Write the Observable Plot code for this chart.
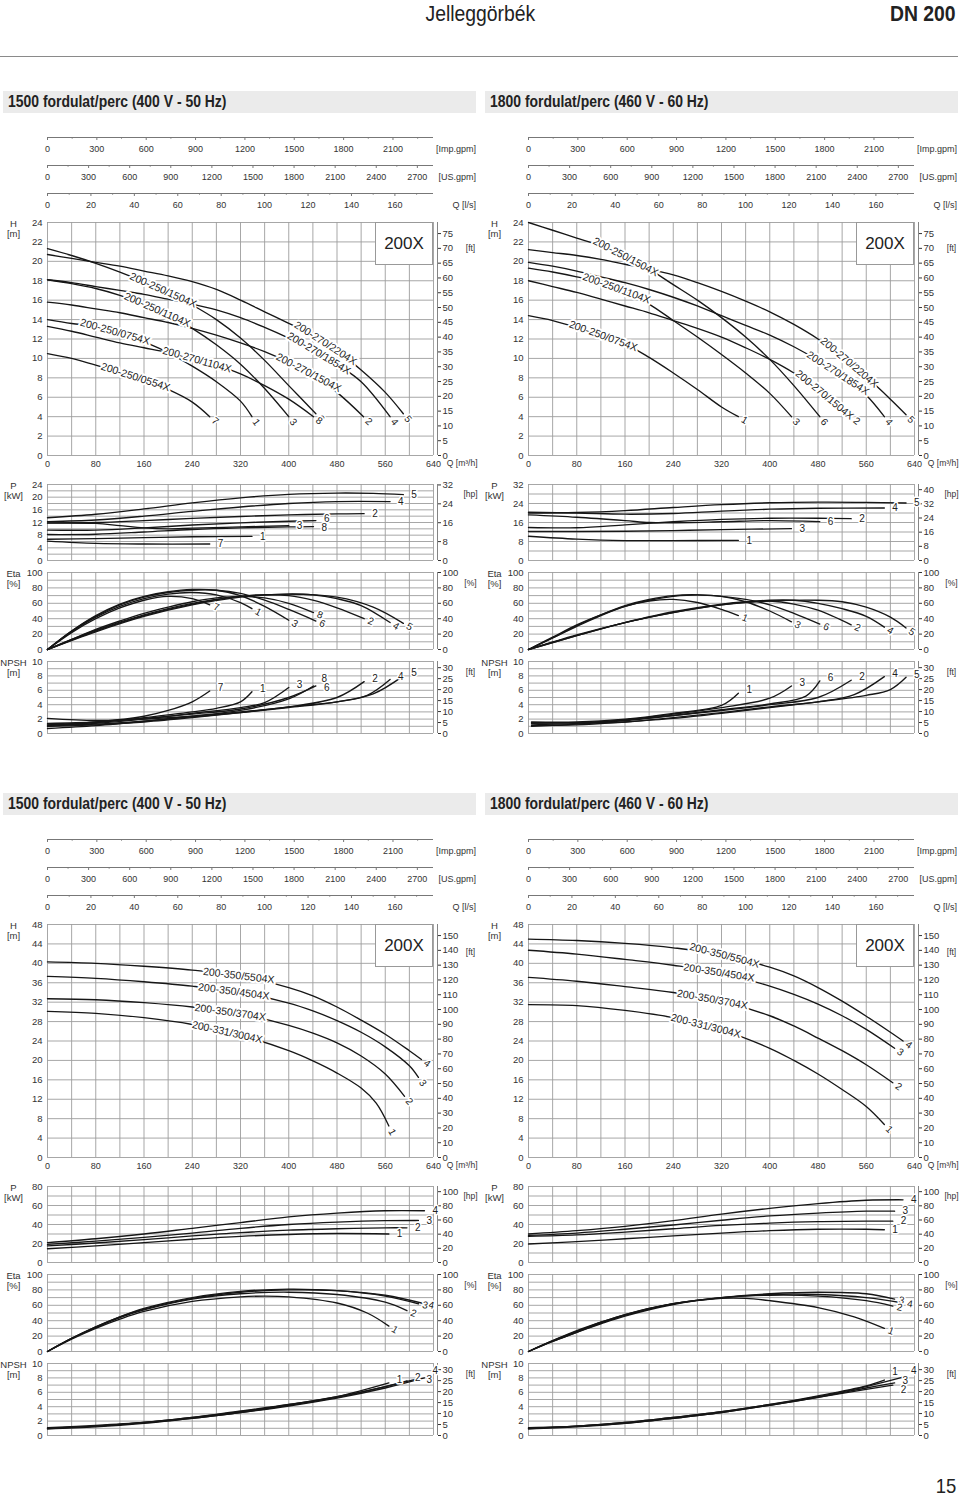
<!DOCTYPE html>
<html><head><meta charset="utf-8">
<script src="https://cdn.jsdelivr.net/npm/d3@7"></script>
<script src="https://cdn.jsdelivr.net/npm/@observablehq/plot@0.6"></script>
<style>
body{margin:0;background:#fff;font-family:'Liberation Sans',Arial,sans-serif;}
#page{position:relative;width:960px;height:1497px;overflow:hidden;background:#fff}
.title{position:absolute;left:0;width:960px;top:1px;text-align:center;font-size:22px;color:#222}
.title span{display:inline-block;transform:scaleX(0.88);transform-origin:center}
.dn{position:absolute;right:4px;top:1px;font-size:22px;font-weight:bold;color:#222}
.dn span,.pg span{display:inline-block;transform:scaleX(0.88);transform-origin:right}
.hr{position:absolute;left:0;top:56px;width:958px;height:0;border-top:1.5px solid #8a8a8a}
.band{position:absolute;height:22px;line-height:22px;background:#ebebeb;font-size:17px;font-weight:bold;color:#222;padding-left:5px;box-sizing:border-box;white-space:nowrap;overflow:hidden}
.band span{display:inline-block;transform:scaleX(0.82);transform-origin:left}
.box{position:absolute;width:58px;height:43px;box-sizing:border-box;border:1px solid #999;background:#fff;font-size:17px;line-height:41px;text-align:center;color:#222}
.pg{position:absolute;right:4px;top:1474px;font-size:21px;color:#222}
</style></head>
<body><div id="page">
<div class="title"><span>Jelleggörbék</span></div>
<div class="dn"><span>DN 200</span></div>
<div class="hr"></div>
<div class="pg"><span>15</span></div>
</div>
<script>
// ---------- axis tick labels ----------
const qLabels = [0, 80, 160, 240, 320, 400, 480, 560, 640];
const impLabels = [0, 300, 600, 900, 1200, 1500, 1800, 2100];
const impMinor = [150, 450, 750, 1050, 1350, 1650, 1950, 2250];
const usLabels = [0, 300, 600, 900, 1200, 1500, 1800, 2100, 2400, 2700];
const usMinor = [150, 450, 750, 1050, 1350, 1650, 1950, 2250, 2550];
const lpsLabels = [0, 20, 40, 60, 80, 100, 120, 140, 160];
const lpsMinor = [10, 30, 50, 70, 90, 110, 130, 150, 170];
const ftTicksSmall = [0, 5, 10, 15, 20, 25, 30, 35, 40, 45, 50, 55, 60, 65, 70, 75];
const ftTicksLarge = [0, 10, 20, 30, 40, 50, 60, 70, 80, 90, 100, 110, 120, 130, 140, 150];
const hpTicksTL = [0, 8, 16, 24, 32];
const hpTicksTR = [0, 8, 16, 24, 32, 40];
const hpTicksB = [0, 20, 40, 60, 80, 100];
const pctTicks = [0, 20, 40, 60, 80, 100];
const npshFtTicks = [0, 5, 10, 15, 20, 25, 30];
const headers = ["1500 fordulat/perc (400 V - 50 Hz)", "1800 fordulat/perc (460 V - 60 Hz)"];

// ---------- 1500 rpm, 200-250 / 200-270 ----------
const TL_H = [
  {id:"7", name:"200-250/0554X", lq:146, pts:[[0,10.5],[40,10.0],[80,9.3],[120,8.6],[160,7.8],[200,6.8],[240,5.5],[269,4.0]]},
  {id:"1", name:"200-250/0754X", lq:112, pts:[[0,14.0],[40,13.6],[80,13.3],[120,12.6],[160,11.7],[200,10.6],[240,9.2],[280,7.6],[320,5.6],[339,4.0]]},
  {id:"3", name:"200-250/1104X", lq:182, pts:[[0,18.1],[40,17.7],[80,17.2],[120,16.5],[160,15.6],[200,14.5],[240,13.1],[280,11.4],[320,9.4],[360,6.9],[400,4.0]]},
  {id:"6", name:"200-250/1504X", lq:192, pts:[[0,21.3],[40,20.6],[80,19.8],[120,18.9],[160,17.9],[200,16.8],[240,15.5],[280,14.0],[320,12.1],[360,9.8],[400,7.2],[445,4.3]]},
  {id:"8", name:"200-270/1104X", lq:248, pts:[[0,13.3],[40,12.8],[80,12.2],[120,11.6],[160,11.1],[200,10.6],[240,10.0],[280,9.3],[320,8.4],[360,7.2],[400,5.8],[441,4.0]]},
  {id:"2", name:"200-270/1504X", lq:433, pts:[[0,15.8],[40,15.5],[80,15.1],[120,14.7],[160,14.2],[200,13.7],[240,13.1],[280,12.4],[320,11.6],[360,10.7],[400,9.6],[440,8.3],[480,6.5],[524,4.0]]},
  {id:"4", name:"200-270/1854X", lq:450, pts:[[0,18.1],[40,17.8],[80,17.4],[120,17.0],[160,16.6],[200,16.1],[240,15.6],[280,15.0],[320,14.2],[360,13.2],[400,12.1],[440,10.9],[480,9.4],[520,7.6],[568,4.0]]},
  {id:"5", name:"200-270/2204X", lq:461, pts:[[0,20.7],[40,20.3],[80,19.9],[120,19.5],[160,19.0],[200,18.5],[240,17.9],[280,17.1],[320,16.0],[360,14.8],[400,13.6],[440,12.4],[480,10.8],[520,8.8],[560,6.5],[590,4.3]]}
];
const TL_P = [
  {id:"5", pts:[[0,13.5],[80,14.6],[160,16.3],[240,18.2],[320,19.8],[400,20.9],[480,21.3],[540,21.2],[590,20.8]]},
  {id:"4", pts:[[0,12.3],[80,12.8],[160,14.0],[240,15.5],[320,16.9],[400,18.0],[480,18.6],[568,18.6]]},
  {id:"2", pts:[[0,11.9],[80,12.0],[160,12.6],[240,13.3],[320,13.9],[400,14.4],[480,14.7],[525,14.8]]},
  {id:"6", pts:[[0,9.6],[80,9.6],[160,10.3],[240,11.2],[320,11.9],[400,12.4],[445,12.6]]},
  {id:"3", pts:[[0,11.8],[80,11.7],[120,11.0],[160,10.3],[200,10.0],[240,10.2],[320,10.6],[400,11.0]]},
  {id:"8", pts:[[0,8.2],[80,8.3],[160,9.0],[240,9.8],[320,10.3],[400,10.6],[441,10.7]]},
  {id:"1", pts:[[0,6.7],[80,6.9],[160,7.2],[240,7.5],[339,7.6]]},
  {id:"7", pts:[[0,6.1],[80,5.4],[160,5.2],[269,5.2]]}
];
const TL_ETA = [
  {id:"7", pts:[[0,0],[40,22],[80,40],[120,54],[160,64],[200,69],[240,66],[269,58]]},
  {id:"1", pts:[[0,0],[40,23],[80,42],[120,56],[160,66],[200,72],[240,74],[280,71],[320,61],[339,53]]},
  {id:"3", pts:[[0,0],[40,24],[80,44],[120,59],[160,69],[200,75],[240,78],[280,77],[320,70],[360,56],[400,38]]},
  {id:"6", pts:[[0,0],[40,24],[80,43],[120,58],[160,68],[200,74],[240,77],[280,77],[320,73],[360,64],[400,52],[445,37]]},
  {id:"8", pts:[[0,0],[40,13],[80,26],[120,37],[160,47],[200,55],[240,62],[280,67],[320,69],[360,67],[400,60],[441,48]]},
  {id:"2", pts:[[0,0],[80,25],[160,45],[240,60],[320,69],[360,71],[400,70],[440,64],[480,54],[525,40]]},
  {id:"4", pts:[[0,0],[80,24],[160,44],[240,59],[320,69],[400,72],[440,71],[480,66],[520,57],[568,35]]},
  {id:"5", pts:[[0,0],[80,23],[160,43],[240,58],[320,68],[400,72],[480,68],[540,55],[590,34]]}
];
const TL_NPSH = [
  {id:"7", pts:[[0,1.2],[80,1.6],[160,2.4],[200,3.2],[240,4.4],[269,5.9]]},
  {id:"1", pts:[[0,1.1],[80,1.5],[160,2.2],[240,3.0],[280,3.5],[320,4.4],[339,5.8]]},
  {id:"3", pts:[[0,1.0],[80,1.4],[160,2.0],[240,2.8],[320,3.6],[360,4.3],[400,6.4]]},
  {id:"8", pts:[[0,0.7],[80,1.1],[160,1.7],[240,2.4],[320,3.2],[400,4.8],[441,6.6]]},
  {id:"6", pts:[[0,1.4],[80,1.6],[160,2.1],[240,2.7],[320,3.4],[400,5.0],[445,6.6]]},
  {id:"2", pts:[[0,2.1],[80,1.8],[160,2.0],[240,2.4],[320,3.0],[400,3.7],[480,5.0],[525,7.2]]},
  {id:"4", pts:[[0,1.2],[80,1.3],[160,1.7],[240,2.3],[320,2.9],[400,3.7],[480,4.4],[530,5.3],[568,7.5]]},
  {id:"5", pts:[[0,1.0],[80,1.2],[160,1.6],[240,2.2],[320,2.9],[400,3.6],[480,4.4],[540,5.5],[590,8.0]]}
];

// ---------- 1800 rpm, 200-250 / 200-270 ----------
const TR_H = [
  {id:"1", name:"200-250/0754X", lq:124, pts:[[0,14.4],[40,13.9],[80,13.2],[120,12.4],[160,11.5],[200,10.1],[240,8.5],[280,6.8],[320,5.0],[348,4.0]]},
  {id:"3", name:"200-250/1104X", lq:146, pts:[[0,19.3],[40,18.9],[80,18.4],[120,17.8],[160,16.9],[200,15.6],[240,13.9],[280,12.2],[320,10.4],[360,8.5],[400,6.4],[436,4.0]]},
  {id:"6", name:"200-250/1504X", lq:161, pts:[[0,24.0],[40,23.2],[80,22.4],[120,21.6],[160,20.5],[200,19.2],[240,17.6],[280,16.0],[320,14.2],[360,12.2],[400,9.9],[440,7.2],[483,4.0]]},
  {id:"2", name:"200-270/1504X", lq:491, pts:[[0,18.0],[40,17.4],[80,16.8],[120,16.1],[160,15.4],[200,14.7],[240,13.9],[280,13.1],[320,12.2],[360,11.1],[400,9.9],[440,8.5],[480,6.8],[535,4.0]]},
  {id:"4", name:"200-270/1854X", lq:513, pts:[[0,19.9],[40,19.5],[80,19.0],[120,18.4],[160,17.8],[200,17.1],[240,16.3],[280,15.4],[320,14.4],[360,13.4],[400,12.4],[440,11.2],[480,9.8],[520,8.2],[560,6.2],[590,4.0]]},
  {id:"5", name:"200-270/2204X", lq:532, pts:[[0,21.2],[40,20.9],[80,20.6],[120,20.2],[160,19.7],[200,19.2],[240,18.6],[280,17.8],[320,16.9],[360,15.9],[400,14.8],[440,13.5],[480,12.0],[520,10.2],[560,8.1],[600,5.8],[626,4.2]]}
];
const TR_P = [
  {id:"5", pts:[[0,20.0],[80,20.2],[160,21.0],[240,22.3],[320,23.5],[400,24.3],[480,24.6],[560,24.5],[626,24.2]]},
  {id:"4", pts:[[0,20.3],[80,20.0],[160,19.5],[240,19.8],[320,20.8],[400,21.6],[480,22.0],[590,22.1]]},
  {id:"2", pts:[[0,13.9],[80,13.8],[160,15.0],[240,16.3],[320,17.3],[400,17.8],[480,17.8],[535,17.6]]},
  {id:"6", pts:[[0,19.2],[80,18.2],[160,16.8],[200,16.0],[240,15.9],[320,16.3],[400,16.8],[483,16.4]]},
  {id:"3", pts:[[0,12.2],[80,12.2],[160,12.3],[240,12.6],[320,13.0],[436,13.4]]},
  {id:"1", pts:[[0,10.2],[80,9.0],[160,8.4],[240,8.4],[348,8.5]]}
];
const TR_ETA = [
  {id:"1", pts:[[0,0],[40,16],[80,32],[120,45],[160,56],[200,63],[240,65],[280,61],[320,52],[348,44]]},
  {id:"3", pts:[[0,0],[40,15],[80,31],[120,45],[160,57],[200,65],[240,70],[280,71],[320,69],[360,62],[400,50],[436,36]]},
  {id:"6", pts:[[0,0],[40,15],[80,30],[120,44],[160,56],[200,64],[240,69],[280,71],[320,69],[360,65],[400,58],[440,47],[483,33]]},
  {id:"2", pts:[[0,0],[80,19],[160,35],[240,49],[320,59],[360,62],[400,63],[440,59],[480,51],[535,32]]},
  {id:"4", pts:[[0,0],[80,18],[160,35],[240,48],[320,58],[400,64],[440,64],[480,60],[520,53],[560,43],[590,29]]},
  {id:"5", pts:[[0,0],[80,18],[160,35],[240,48],[320,58],[400,63],[480,64],[520,62],[560,55],[600,42],[626,28]]}
];
const TR_NPSH = [
  {id:"1", pts:[[5,1.6],[80,1.6],[160,2.0],[240,2.8],[320,3.9],[348,5.6]]},
  {id:"3", pts:[[5,1.2],[80,1.4],[160,1.9],[240,2.7],[320,3.6],[400,4.9],[436,6.6]]},
  {id:"6", pts:[[5,1.0],[80,1.3],[160,1.8],[240,2.5],[320,3.3],[400,4.1],[460,5.2],[483,7.3]]},
  {id:"2", pts:[[5,1.4],[80,1.5],[160,1.9],[240,2.5],[320,3.2],[400,4.0],[480,5.0],[535,7.4]]},
  {id:"4", pts:[[5,1.5],[80,1.5],[160,1.6],[240,2.2],[320,2.9],[400,3.7],[480,4.4],[540,5.4],[590,7.9]]},
  {id:"5", pts:[[5,1.1],[80,1.2],[160,1.6],[240,2.1],[320,2.8],[400,3.6],[480,4.4],[560,5.3],[600,6.1],[626,7.8]]}
];

// ---------- 1500 rpm, 200-331 / 200-350 ----------
const BL_H = [
  {id:"4", name:"200-350/5504X", lq:317, pts:[[0,40.3],[80,40.0],[160,39.4],[240,38.6],[320,37.4],[400,35.0],[440,33.3],[480,31.0],[520,28.3],[560,25.4],[600,22.0],[620,20.2]]},
  {id:"3", name:"200-350/4504X", lq:309, pts:[[0,37.3],[80,36.9],[160,36.2],[240,35.3],[320,34.0],[400,31.8],[440,30.2],[480,28.2],[520,25.8],[560,22.8],[600,18.9],[615,16.5]]},
  {id:"2", name:"200-350/3704X", lq:303, pts:[[0,32.7],[80,32.5],[160,31.9],[240,31.0],[320,29.6],[400,27.2],[440,25.6],[480,23.6],[520,20.9],[560,17.2],[592,12.6]]},
  {id:"1", name:"200-331/3004X", lq:298, pts:[[0,30.1],[80,29.7],[160,28.8],[240,27.4],[320,25.2],[400,22.0],[440,19.9],[480,17.4],[520,14.3],[545,11.2],[566,6.5]]}
];
const BL_P = [
  {id:"4", pts:[[0,21],[80,25],[160,30],[240,36],[320,42],[400,48],[480,52],[560,54.5],[625,54.5]]},
  {id:"3", pts:[[0,19],[80,22.5],[160,26.5],[240,31],[320,36],[400,40],[480,42.5],[560,44],[615,44.2]]},
  {id:"2", pts:[[0,17.5],[80,20.5],[160,24],[240,28],[320,31.5],[400,34],[480,35.5],[560,36.5],[596,36.5]]},
  {id:"1", pts:[[0,14.5],[80,17.5],[160,21],[240,24.5],[320,27.5],[400,29.5],[480,30.5],[566,30]]}
];
const BL_ETA = [
  {id:"4", pts:[[0,0],[40,17],[80,32],[120,45],[160,55],[240,69],[320,77],[400,80],[480,79],[560,73],[625,62]]},
  {id:"3", pts:[[0,0],[40,17],[80,32],[120,45],[160,56],[240,70],[320,78],[400,81],[480,79],[560,72],[615,62]]},
  {id:"2", pts:[[0,0],[40,17],[80,31],[120,44],[160,54],[240,68],[320,75],[400,77],[480,74],[560,64],[596,53]]},
  {id:"1", pts:[[0,0],[40,16],[80,30],[120,42],[160,52],[240,65],[320,71],[360,72],[400,71],[480,63],[530,50],[566,33]]}
];
const BL_NPSH = [
  {id:"1", pts:[[0,1.0],[80,1.3],[160,1.8],[240,2.5],[320,3.3],[400,4.3],[480,5.4],[566,7.3]]},
  {id:"2", pts:[[0,0.9],[80,1.2],[160,1.7],[240,2.4],[320,3.2],[400,4.2],[480,5.3],[560,6.8],[596,7.6]]},
  {id:"3", pts:[[0,1.0],[80,1.3],[160,1.8],[240,2.5],[320,3.4],[400,4.3],[480,5.4],[560,6.8],[615,7.9]]},
  {id:"4", pts:[[0,1.1],[80,1.4],[160,1.8],[240,2.4],[320,3.2],[400,4.1],[480,5.2],[560,6.6],[625,8.0]]}
];

// ---------- 1800 rpm, 200-331 / 200-350 ----------
const BR_H = [
  {id:"4", name:"200-350/5504X", lq:325, pts:[[0,45.0],[80,44.7],[160,44.1],[240,43.2],[320,41.8],[400,39.2],[440,37.4],[480,35.0],[520,32.2],[560,29.1],[600,25.8],[621,24.0]]},
  {id:"3", name:"200-350/4504X", lq:316, pts:[[0,42.7],[80,41.9],[160,40.8],[240,39.6],[320,38.0],[400,35.3],[440,33.6],[480,31.6],[520,29.2],[560,26.4],[607,22.5]]},
  {id:"2", name:"200-350/3704X", lq:305, pts:[[0,37.1],[80,36.3],[160,35.2],[240,34.0],[320,32.2],[400,29.2],[440,27.1],[480,24.6],[520,22.0],[560,19.1],[604,15.4]]},
  {id:"1", name:"200-331/3004X", lq:294, pts:[[0,31.5],[80,31.3],[160,30.3],[240,28.8],[320,26.3],[400,22.5],[440,20.0],[480,17.2],[520,14.0],[560,10.5],[590,6.8]]}
];
const BR_P = [
  {id:"4", pts:[[0,30],[80,33.5],[160,38],[240,44],[320,51],[400,57],[480,62],[560,65.5],[621,66]]},
  {id:"3", pts:[[0,28.5],[80,31],[160,35],[240,39.5],[320,44.5],[400,49],[480,52],[560,54],[607,54]]},
  {id:"2", pts:[[0,27.5],[80,29],[160,32],[240,35.5],[320,39],[400,41.5],[480,43],[560,43.5],[604,43.5]]},
  {id:"1", pts:[[0,19.5],[80,22],[160,25],[240,28],[320,31],[400,33.5],[480,35],[560,35],[590,34.5]]}
];
const BR_ETA = [
  {id:"3", pts:[[0,0],[40,13],[80,25],[120,36],[160,46],[240,61],[320,70],[400,75],[480,77],[560,75],[607,68]]},
  {id:"4", pts:[[0,0],[40,13],[80,25],[120,37],[160,47],[240,62],[320,70],[400,74],[480,74],[560,70],[621,63]]},
  {id:"2", pts:[[0,0],[40,14],[80,27],[120,38],[160,48],[240,62],[320,70],[400,73],[480,72],[560,66],[604,59]]},
  {id:"1", pts:[[0,0],[40,14],[80,26],[120,38],[160,48],[240,62],[320,69],[360,69],[400,66],[480,57],[540,45],[590,30]]}
];
const BR_NPSH = [
  {id:"1", pts:[[0,1.0],[80,1.3],[160,1.8],[240,2.5],[320,3.3],[400,4.3],[480,5.5],[560,6.9],[590,7.7]]},
  {id:"2", pts:[[0,0.9],[80,1.2],[160,1.7],[240,2.4],[320,3.2],[400,4.2],[480,5.3],[560,6.4],[604,7.0]]},
  {id:"3", pts:[[0,1.0],[80,1.3],[160,1.7],[240,2.4],[320,3.2],[400,4.2],[480,5.3],[560,6.6],[607,7.3]]},
  {id:"4", pts:[[0,1.1],[80,1.3],[160,1.8],[240,2.5],[320,3.3],[400,4.3],[480,5.4],[560,6.8],[621,8.1]]}
];

// ---------- unit factors ----------
const IMP = 3.6662, USG = 4.4029, LPS = 1 / 3.6, FT = 3.28084, HP = 1.34102;

// ---------- layout ----------
const page = document.getElementById("page");
const W = 386, ML = 47, MR = 46, QMAX = 640;
const GRID = "#9d9d9d", AX = "#777", INK = "#161616";
const STYLE = {fontFamily: "'Liberation Sans', Arial, sans-serif", fontSize: "9.5px", color: "#333", background: "none", overflow: "visible"};

function place(node, left, top) {
  node.style.position = "absolute";
  node.style.left = left + "px";
  node.style.top = top + "px";
  page.appendChild(node);
}

function interp(pts, q) {
  for (let i = 1; i < pts.length; i++) {
    if (q <= pts[i][0]) {
      const [q0, v0] = pts[i - 1], [q1, v1] = pts[i];
      const s = (v1 - v0) / (q1 - q0);
      return [v0 + (q - q0) * s, s];
    }
  }
  const n = pts.length;
  return [pts[n - 1][1], (pts[n - 1][1] - pts[n - 2][1]) / (pts[n - 1][0] - pts[n - 2][0])];
}

function strip(left, lineY, labels, minors, factor, unit) {
  const svg = Plot.plot({
    width: ML + W + MR, height: 24, marginLeft: ML, marginRight: MR, marginTop: 3, marginBottom: 18,
    x: {domain: [0, QMAX], axis: null}, y: {domain: [0, 1], axis: null}, style: STYLE,
    marks: [
      Plot.ruleY([1], {stroke: AX, strokeWidth: 1}),
      Plot.ruleX(labels, {x: d => d / factor, y1: 0, y2: 1, stroke: AX}),
      Plot.ruleX(minors, {x: d => d / factor, y1: 0.45, y2: 1, stroke: AX}),
      Plot.text(labels, {x: d => d / factor, y: 0, dy: 9, text: d => String(d), fontSize: 9})
    ]
  });
  place(svg, left - ML, lineY - 3);
  const u = document.createElement("div");
  u.textContent = unit;
  u.style.cssText = "font-size:9px;color:#333;text-align:right;width:80px;";
  place(u, left + W + 43 - 80, lineY + 7);
}

// push apart upright end labels that would collide (pixel space), return data-space positions
function spreadLabels(ends, kx, ky, dxPx, dyPx) {
  const L = ends.map(e => ({...e, px: e.q1 * kx + dxPx, py: -e.v1 * ky + dyPx}));
  for (let it = 0; it < 30; it++) {
    for (let i = 0; i < L.length; i++) for (let j = i + 1; j < L.length; j++) {
      const a = L[i], b = L[j];
      if (Math.abs(a.px - b.px) < 11 && Math.abs(a.py - b.py) < 9) {
        const d = (9 - Math.abs(a.py - b.py)) / 2 + 0.1;
        if (a.py <= b.py) { a.py -= d; b.py += d; } else { a.py += d; b.py -= d; }
      }
    }
  }
  return L.map(l => ({...l, lq: l.px / kx, lv: -l.py / ky}));
}

function chart(o) {
  const mt = 8, mb = o.xLabels ? 20 : 6;
  const kx = W / QMAX, ky = o.fh / o.ymax;
  const rows = o.curves.flatMap(c => c.pts.map(([q, v]) => ({id: c.id, q, v})));
  const names = o.curves.filter(c => c.name).map(c => {
    const [v, s] = interp(c.pts, c.lq);
    return {q: c.lq, v, t: c.name, rot: Math.atan2(-s * ky, kx) * 180 / Math.PI};
  });
  const ends = o.curves.map(c => {
    const n = c.pts.length, [q1, v1] = c.pts[n - 1], [q0, v0] = c.pts[n - 2];
    const sx = (q1 - q0) * kx, sy = -(v1 - v0) * ky, L = Math.hypot(sx, sy);
    const off = 7;
    return {t: c.id, q1, v1, q: q1 + (sx / L) * off / kx, v: v1 - (sy / L) * off / ky, rot: Math.atan2(sy, sx) * 180 / Math.PI};
  });
  const marks = [
    Plot.ruleY(d3.range(0, o.ymax + 1e-6, o.yGrid), {stroke: GRID, strokeWidth: 0.9}),
    Plot.ruleX(d3.range(0, QMAX + 1, 40), {stroke: GRID, strokeWidth: 0.9}),
    Plot.axisY(d3.range(0, o.ymax + 1e-6, o.yLab), {anchor: "left", label: null, tickSize: 0, tickPadding: 5, fontSize: 9.5}),
    Plot.ruleX([QMAX], {dx: 4, stroke: AX, strokeWidth: 0.9}),
    Plot.axisY(o.rTicks.map(t => t / o.rFactor), {anchor: "right", label: null, tickSize: 3, tickPadding: 2, dx: 4, tickFormat: d => String(Math.round(d * o.rFactor)), fontSize: 9.5}),
    Plot.line(rows, {x: "q", y: "v", z: "id", curve: "catmull-rom", stroke: INK, strokeWidth: 1.35}),
    Plot.text([o.title], {frameAnchor: "top-left", dx: -34, dy: -2, lineAnchor: "top", textAnchor: "middle", fontSize: 9.5}),
    Plot.text([o.unit], {frameAnchor: "top-right", dx: 37, dy: o.unitDy, textAnchor: "middle", fontSize: 8.5})
  ];
  if (names.length) marks.push(Plot.text(names, {x: "q", y: "v", text: "t", rotate: "rot", fontSize: 10.5, fill: "#222", stroke: "white", strokeWidth: 4}));
  if (o.endMode === "rot") {
    marks.push(Plot.text(ends, {x: "q", y: "v", text: "t", rotate: "rot", fontSize: 10, fill: "#222", stroke: "white", strokeWidth: 3}));
  } else {
    const spread = spreadLabels(ends, kx, ky, 8, o.endDy || 0);
    marks.push(Plot.text(spread, {x: "lq", y: "lv", text: "t", textAnchor: "start", fontSize: 10, fill: "#222", stroke: "white", strokeWidth: 3}));
  }
  if (o.xLabels) {
    marks.push(Plot.axisX(qLabels, {anchor: "bottom", label: null, tickSize: 0, tickPadding: 5, fontSize: 9}));
    marks.push(Plot.text(["Q [m³/h]"], {frameAnchor: "bottom-right", dx: 44, dy: 10, textAnchor: "end", fontSize: 8.5}));
  }
  const svg = Plot.plot({
    width: ML + W + MR, height: mt + o.fh + mb, marginLeft: ML, marginRight: MR, marginTop: mt, marginBottom: mb,
    x: {domain: [0, QMAX], axis: null, label: null}, y: {domain: [0, o.ymax], axis: null, label: null}, style: STYLE, marks
  });
  place(svg, o.px - ML, o.top - mt);
}

const panels = [
  {px: 47, oy: 0, hdr: 0, H: TL_H, P: TL_P, E: TL_ETA, N: TL_NPSH, hmax: 24, hLab: 2, ft: ftTicksSmall, pmax: 24, pLab: 4, pGrid: 2, hp: hpTicksTL, ftDy: 22},
  {px: 528, oy: 0, hdr: 1, H: TR_H, P: TR_P, E: TR_ETA, N: TR_NPSH, hmax: 24, hLab: 2, ft: ftTicksSmall, pmax: 32, pLab: 8, pGrid: 4, hp: hpTicksTR, ftDy: 22},
  {px: 47, oy: 702, hdr: 0, H: BL_H, P: BL_P, E: BL_ETA, N: BL_NPSH, hmax: 48, hLab: 4, ft: ftTicksLarge, pmax: 80, pLab: 20, pGrid: 10, hp: hpTicksB, ftDy: 24},
  {px: 528, oy: 702, hdr: 1, H: BR_H, P: BR_P, E: BR_ETA, N: BR_NPSH, hmax: 48, hLab: 4, ft: ftTicksLarge, pmax: 80, pLab: 20, pGrid: 10, hp: hpTicksB, ftDy: 24}
];

for (const p of panels) {
  const band = document.createElement("div");
  band.className = "band";
  const sp = document.createElement("span");
  sp.textContent = headers[p.hdr];
  band.appendChild(sp);
  band.style.width = "473px";
  place(band, p.hdr === 0 ? 3 : 485, 91 + p.oy);

  strip(p.px, 137 + p.oy, impLabels, impMinor, IMP, "[Imp.gpm]");
  strip(p.px, 165 + p.oy, usLabels, usMinor, USG, "[US.gpm]");
  strip(p.px, 193 + p.oy, lpsLabels, lpsMinor, LPS, "Q [l/s]");

  chart({px: p.px, top: 222 + p.oy, fh: 233, ymax: p.hmax, yLab: p.hLab, yGrid: p.hLab, curves: p.H,
    rTicks: p.ft, rFactor: FT, title: "H\n[m]", unit: "[ft]", unitDy: p.ftDy, endMode: "rot", xLabels: true});
  chart({px: p.px, top: 484 + p.oy, fh: 76, ymax: p.pmax, yLab: p.pLab, yGrid: p.pGrid, curves: p.P,
    rTicks: p.hp, rFactor: HP, title: "P\n[kW]", unit: "[hp]", unitDy: 6, endMode: "flat", endDy: 0});
  chart({px: p.px, top: 572 + p.oy, fh: 77, ymax: 100, yLab: 20, yGrid: 10, curves: p.E,
    rTicks: pctTicks, rFactor: 1, title: "Eta\n[%]", unit: "[%]", unitDy: 7, endMode: "rot"});
  chart({px: p.px, top: 661 + p.oy, fh: 72, ymax: 10, yLab: 2, yGrid: 1, curves: p.N,
    rTicks: npshFtTicks, rFactor: FT, title: "NPSH\n[m]", unit: "[ft]", unitDy: 7, endMode: "flat", endDy: -3});

  const box = document.createElement("div");
  box.className = "box";
  box.textContent = "200X";
  place(box, p.px + W - 58, 222 + p.oy);
}
</script>
</body></html>
